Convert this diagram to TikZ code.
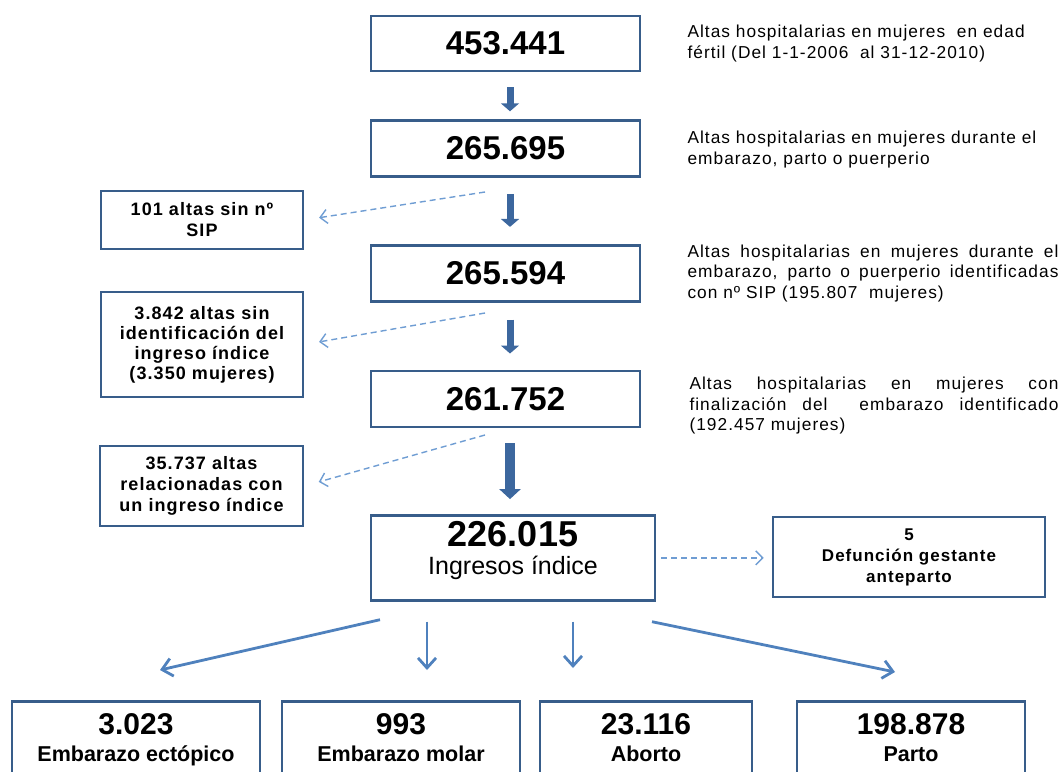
\documentclass[tikz,border=0pt]{standalone}
\usepackage{fontspec}
\setmainfont{Liberation Sans}
\newfontfamily\spacedfont[LetterSpace=6]{Liberation Sans}
\usetikzlibrary{arrows.meta,positioning,calc}
\definecolor{frame}{HTML}{385D8A}
\definecolor{flowblue}{HTML}{3C679E}
\definecolor{lightblue}{HTML}{6F9DD3}
\definecolor{branch}{HTML}{4F81BD}
\tikzset{
  base/.style={draw=frame,line width=2.6pt,fill=white,align=center,inner sep=2pt},
  mainbox/.style={base,minimum width=269pt,minimum height=56pt,font=\bfseries\fontsize{33}{36}\selectfont},
  sidebox/.style={base,minimum width=202pt,font=\spacedfont\bfseries\fontsize{18}{21}\selectfont},
  endbox/.style={base,anchor=north,text height=60pt,text depth=40pt,inner ysep=0pt,font=\bfseries\fontsize{21.5}{27}\selectfont},
  note/.style={anchor=west,inner sep=0pt,font=\spacedfont\fontsize{17.3}{20.5}\selectfont},
  flow/.style={-{Triangle[width=18pt,length=8pt]},line width=7pt,draw=flowblue},
  loss/.style={-{Straight Barb[length=7pt,width=14pt]},line width=1.4pt,draw=lightblue,dash pattern=on 6pt off 4pt},
  split/.style={-{Straight Barb[length=10pt,width=18pt]},line width=2.8pt,draw=branch}
}
\newcommand{\cellnum}[1]{{\fontsize{30}{27}\selectfont #1}}

\begin{document}
\begin{tikzpicture}[x=1pt,y=-1pt]
\useasboundingbox (0,0) rectangle (1064,771);

\node[mainbox,minimum height=55pt] (fertil) at (505.5,43.5) {453.441};
\node[mainbox,below=47pt of fertil] (embarazo) {265.695};
\node[mainbox,below=66pt of embarazo] (consip) {265.594};
\node[mainbox,below=67pt of consip] (finaliz) {261.752};
\node[mainbox,minimum width=284pt,minimum height=85pt,below=86pt of finaliz,xshift=7.5pt,text height=54pt,text depth=21pt,font=\fontsize{25}{28}\selectfont] (indice) {{\bfseries\fontsize{36}{28}\selectfont 226.015}\\Ingresos índice};

\node[note,align=left,right=46pt of fertil] (nfertil) {Altas hospitalarias en mujeres \ en edad\\fértil (Del 1-1-2006 \ al 31-12-2010)};
\node[note,align=left,right=46pt of embarazo,yshift=-1pt] (nembarazo) {Altas hospitalarias en mujeres durante el\\embarazo, parto o puerperio};
\node[note,text width=371pt,align=justify,right=46pt of consip] (nconsip) {Altas hospitalarias en mujeres durante el\linebreak embarazo, parto o puerperio identificadas\linebreak con nº SIP (195.807 \ mujeres)};
\node[note,text width=369pt,align=justify,right=48pt of finaliz,yshift=-7pt] (nfinaliz) {Altas hospitalarias en mujeres con\linebreak finalización del \ embarazo identificado\linebreak (192.457 mujeres)};

\node[sidebox,minimum height=58pt] (sinsip) at (202,220) {101 altas sin nº\\SIP};
\node[sidebox,minimum height=105pt,font=\spacedfont\bfseries\fontsize{18}{20}\selectfont] (sinindice) at (202,344.5) {3.842 altas sin\\identificación del\\ingreso índice\\(3.350 mujeres)};
\node[sidebox,minimum width=203pt,minimum height=80pt] (relac) at (201.5,486) {35.737 altas\\relacionadas con\\un ingreso índice};
\node[sidebox,minimum width=272pt,minimum height=80pt,font=\spacedfont\bfseries\fontsize{17}{21}\selectfont] (defuncion) at (909,557) {5\\Defunción gestante\\anteparto};

\node[endbox,minimum width=248pt] (ectopico) at (136,700) {\cellnum{3.023}\\Embarazo ectópico};
\node[endbox,minimum width=238pt] (molar) at (401,700) {\cellnum{993}\\Embarazo molar};
\node[endbox,minimum width=212pt] (aborto) at (646,700) {\cellnum{23.116}\\Aborto};
\node[endbox,minimum width=228pt] (parto) at (911,700) {\cellnum{198.878}\\Parto};

\draw[flow,shorten <=15pt,shorten >=8pt] ([xshift=4.5pt]fertil.south) -- ([xshift=4.5pt]embarazo.north);
\draw[flow,shorten <=16pt,shorten >=17pt] ([xshift=4.5pt]embarazo.south) -- ([xshift=4.5pt]consip.north);
\draw[flow,shorten <=17pt,shorten >=16pt] ([xshift=4.5pt]consip.south) -- ([xshift=4.5pt]finaliz.north);
\draw[flow,line width=10pt,-{Triangle[width=21pt,length=10pt]},shorten <=15pt,shorten >=15pt] ([xshift=4.5pt]finaliz.south) -- ([xshift=-3pt]indice.north);

\coordinate (cut1) at (485,192);
\coordinate (cut2) at (485,313);
\coordinate (cut3) at (485,435);
\draw[loss,shorten >=15pt] (cut1) -- (sinsip.east);
\draw[loss,shorten >=15pt] (cut2) -- (sinindice.east);
\draw[loss,shorten >=15pt] (cut3) -- (relac.east);
\draw[loss,shorten <=5pt,shorten >=8pt] (indice.east) -- (indice.east -| defuncion.west);

\draw[split] ([xshift=-133pt,yshift=-18pt]indice.south) -- ([xshift=24pt,yshift=30pt]ectopico.north);
\draw[split,shorten <=20pt,shorten >=30pt] ([xshift=-86pt]indice.south) -- ([xshift=26pt]molar.north);
\draw[split,shorten <=20pt,shorten >=32pt] ([xshift=60pt]indice.south) -- ([xshift=-73pt]aborto.north);
\draw[split] ([xshift=139pt,yshift=-20pt]indice.south) -- ([xshift=-16pt,yshift=28pt]parto.north);
\end{tikzpicture}
\end{document}
